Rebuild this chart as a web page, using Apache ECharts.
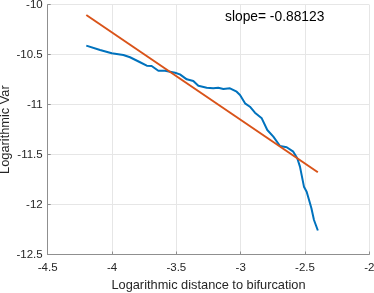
<!DOCTYPE html>
<html>
<head>
<meta charset="utf-8">
<script src="https://cdn.jsdelivr.net/npm/echarts@6/dist/echarts.min.js"></script>
<style>
html,body{margin:0;padding:0;background:#fff;}
#c{width:374px;height:293px;}
</style>
</head>
<body>
<div id="c"></div>
<script>
// Blue curve: log distance vs log var
const blueX = [-4.2, -4.093, -4.002, -3.912, -3.860, -3.782, -3.730, -3.692, -3.640, -3.588, -3.510,
  -3.472, -3.419, -3.368, -3.329, -3.264, -3.213, -3.174, -3.135, -3.083, -3.031, -3.005,
  -2.966, -2.928, -2.889, -2.836, -2.793, -2.746, -2.694, -2.642, -2.591, -2.560, -2.539,
  -2.508, -2.487, -2.461, -2.450, -2.430, -2.4];
const blueY = [-10.410, -10.453, -10.486, -10.503, -10.526, -10.576, -10.610, -10.613, -10.661, -10.661, -10.681,
  -10.697, -10.747, -10.764, -10.811, -10.831, -10.837, -10.831, -10.844, -10.837, -10.871, -10.904,
  -10.987, -11.021, -11.081, -11.137, -11.254, -11.321, -11.414, -11.427, -11.471, -11.537, -11.621,
  -11.821, -11.871, -11.988, -12.038, -12.155, -12.26];
// Fitted line endpoints
const fitX = [-4.2, -2.4];
const fitY = [-10.103, -11.677];
const xTicks = {min: -4.5, max: -2, interval: 0.5};
const yTicks = {min: -12.5, max: -10, interval: 0.5};
const slopeText = 'slope= -0.88123';
const xName = 'Logarithmic distance to bifurcation';
const yName = 'Logarithmic Var';

const font = '"Liberation Sans", Arial, Helvetica, sans-serif';
const chart = echarts.init(document.getElementById('c'));
const axisCommon = {
  type: 'value',
  axisLine: {show: true, lineStyle: {color: '#8f8f8f', width: 1}},
  axisTick: {show: true, inside: true, length: 3, lineStyle: {color: '#8f8f8f'}},
  splitLine: {show: true, lineStyle: {color: '#e6e6e6', width: 1}},
  axisLabel: {color: '#262626', fontSize: 11.5, fontFamily: font},
  nameLocation: 'middle',
  nameMoveOverlap: false,
  nameTextStyle: {color: '#262626', fontSize: 12.8, fontFamily: font}
};
chart.setOption({
  animation: false,
  grid: {left: 47.7, right: 4.7, top: 4.7, bottom: 38.5, containLabel: false, outerBoundsMode: 'none'},
  xAxis: Object.assign({}, axisCommon, {
    min: xTicks.min, max: xTicks.max, interval: xTicks.interval,
    name: xName, nameGap: 24,
    axisLabel: Object.assign({}, axisCommon.axisLabel, {margin: 7})
  }),
  yAxis: Object.assign({}, axisCommon, {
    min: yTicks.min, max: yTicks.max, interval: yTicks.interval,
    name: yName, nameGap: 36,
    axisLabel: Object.assign({}, axisCommon.axisLabel, {margin: 5})
  }),
  series: [
    {
      type: 'line', showSymbol: false, symbol: 'none',
      data: blueX.map((x, i) => [x, blueY[i]]),
      lineStyle: {color: '#0072BD', width: 2}, z: 2
    },
    {
      type: 'line', showSymbol: false, symbol: 'none',
      data: fitX.map((x, i) => [x, fitY[i]]),
      lineStyle: {color: '#D95319', width: 2}, z: 3
    }
  ],
  graphic: [{
    type: 'text', left: 225, top: 10, z: 100,
    style: {text: slopeText, fontSize: 13.8, fontFamily: font, fill: '#000'}
  }]
});
</script>
</body>
</html>
